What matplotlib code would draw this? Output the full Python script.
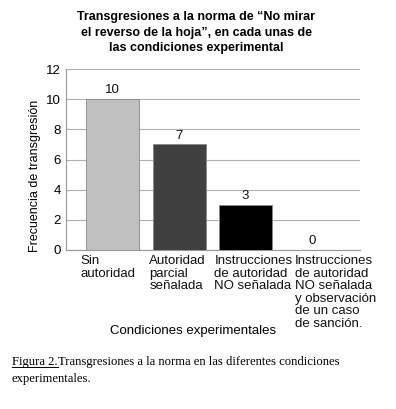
import matplotlib.pyplot as plt
from matplotlib.lines import Line2D

# data
conditions = ['Sin\nautoridad',
              'Autoridad\nparcial\nseñalada',
              'Instrucciones\nde autoridad\nNO señalada',
              'Instrucciones\nde autoridad\nNO señalada\ny observación\nde un caso\nde sanción.']
transgressions = [10, 7, 3, 0]
bar_colors = ['#c0c0c0', '#404040', '#000000', '#ffffff']

plt.rcParams['font.family'] = ['Liberation Sans', 'DejaVu Sans']

fig = plt.figure(figsize=(3.96, 4.09), dpi=100)
ax = fig.add_axes([0.167, 0.389, 0.742, 0.442])

x = list(range(len(transgressions)))
rects = ax.bar(x, transgressions, width=0.8, color=bar_colors, edgecolor='#888888', linewidth=0.6, zorder=3)

# value labels over each bar
for rect in rects:
    h = rect.get_height()
    ax.annotate(str(h), xy=(rect.get_x() + rect.get_width() / 2, h),
                xytext=(0, 2), textcoords='offset points',
                ha='center', va='bottom', fontsize=9.5, color='#111111')

ax.set_xlim(-0.7, 3.72)
ax.set_ylim(0, 12)
ax.set_yticks(range(0, 13, 2))
ax.yaxis.grid(True, color='#b0b0b0', linewidth=0.8, zorder=0)
ax.set_axisbelow(True)
ax.tick_params(axis='y', length=0, labelsize=9.5, pad=4)
ax.set_xticks([])
for s in ['top', 'right']:
    ax.spines[s].set_visible(False)
ax.spines['left'].set_color('#999999')
ax.spines['bottom'].set_color('#999999')

# category labels, left aligned under bars (last one sits further right)
label_shift = [-0.49, -0.45, -0.47, -0.26]
for i, lab in enumerate(conditions):
    ax.text(i + label_shift[i], -0.35, lab, ha='left', va='top', fontsize=9.5,
            linespacing=1.06, transform=ax.transData, color='#111111', clip_on=False)

ax.set_ylabel('Frecuencia de transgresión', fontsize=9)
ax.yaxis.set_label_coords(-0.085, 0.41)
fig.text(0.487, 0.19, 'Condiciones experimentales', ha='center', va='center', fontsize=9.5)

fig.text(0.495, 0.972, 'Transgresiones a la norma de \u201cNo mirar\nel reverso de la hoja\u201d, en cada unas de\nlas condiciones experimental',
         ha='center', va='top', fontsize=9, fontweight='bold', linespacing=1.38)

# caption with underlined figure number
cap_font = dict(family='Liberation Serif', fontsize=9.1, va='baseline')
cap1 = fig.text(0.03, 0.108, 'Figura 2.', **cap_font)
fig.canvas.draw()
bb = cap1.get_window_extent().transformed(fig.transFigure.inverted())
fig.text(bb.x1, 0.108, 'Transgresiones a la norma en las diferentes condiciones', **cap_font)
fig.text(0.03, 0.066, 'experimentales.', **cap_font)
fig.add_artist(Line2D([bb.x0, bb.x1], [0.103, 0.103], color='black', linewidth=0.7, transform=fig.transFigure))

fig.savefig('out.png', dpi=100)
